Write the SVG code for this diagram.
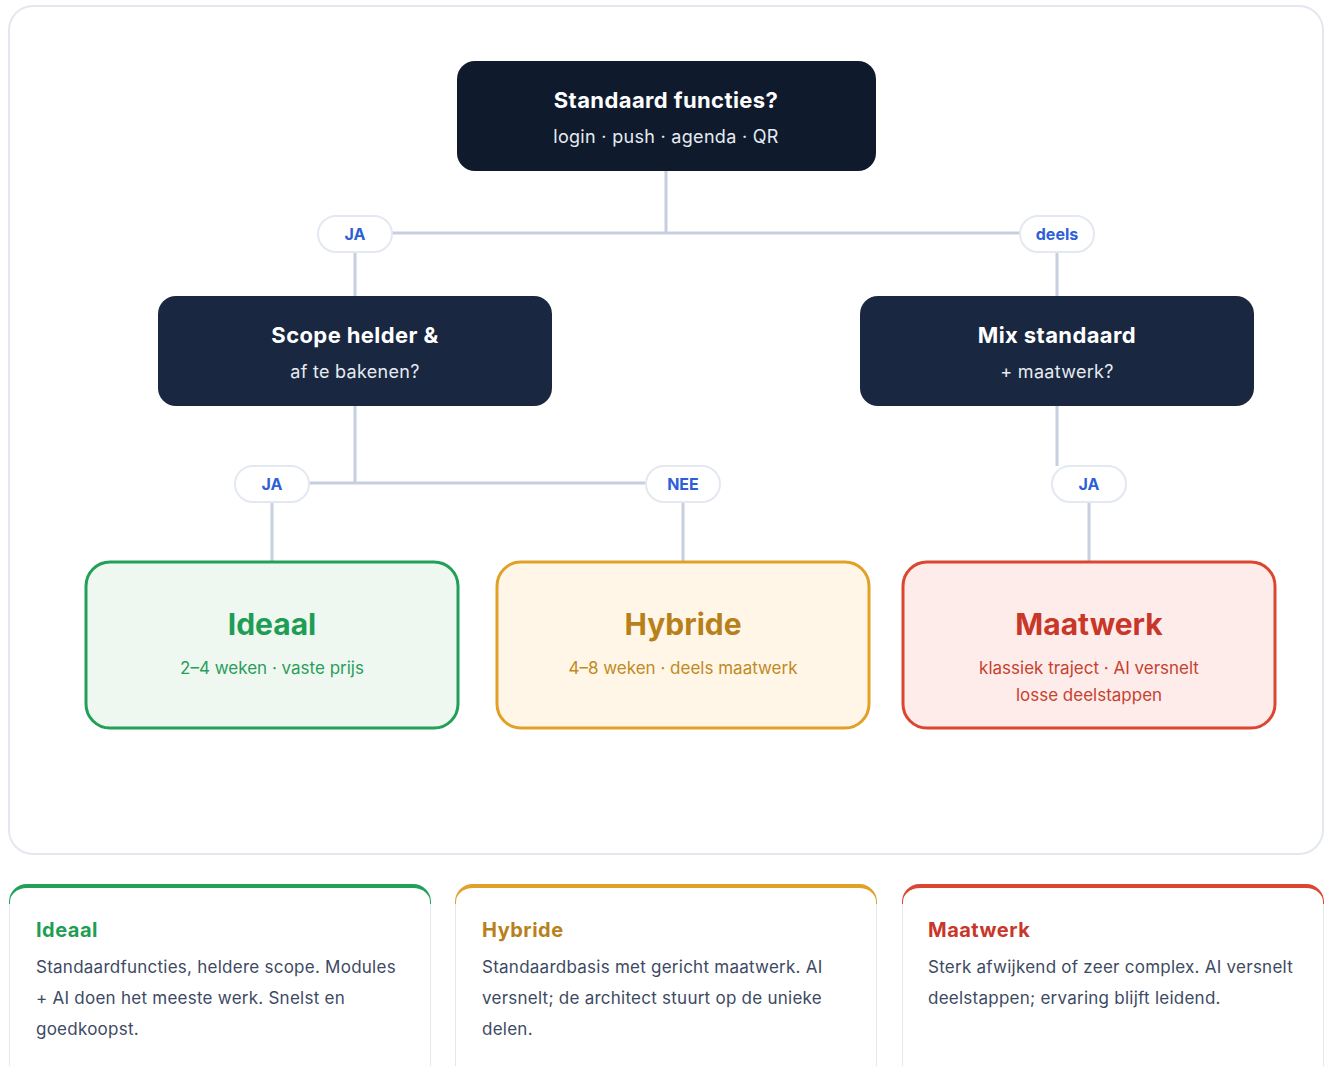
<svg xmlns="http://www.w3.org/2000/svg" width="1324" height="1066" viewBox="0 0 1324 1066">
<style>
text{font-family:Inter,"Liberation Sans",sans-serif}
.q{fill:#0f1b2d}
.q2{fill:#1a2740}
.qt{fill:#ffffff;font-weight:700;font-size:22px;letter-spacing:0.4px;text-anchor:middle}
.qs{fill:#e6ebf2;font-size:18px;letter-spacing:0.3px;text-anchor:middle}
.pill{fill:#ffffff;stroke:#e3e8f1;stroke-width:2}
.pt{fill:#2f5fd8;font-weight:700;font-size:16px;text-anchor:middle}
.con{stroke:#c6cfdf;stroke-width:3;fill:none}
.rt{font-weight:700;font-size:30px;text-anchor:middle}
.rs{font-size:17px;text-anchor:middle}
.ct{font-weight:700;font-size:20px;letter-spacing:0.5px}
.cb{fill:#3d4a63;font-size:17px;letter-spacing:0.25px}
</style>
<defs>
<clipPath id="c1"><rect x="9" y="884" width="422" height="220" rx="18"/></clipPath>
<clipPath id="c2"><rect x="455" y="884" width="422" height="220" rx="18"/></clipPath>
<clipPath id="c3"><rect x="902" y="884" width="422" height="220" rx="18"/></clipPath>
</defs>
<rect x="9" y="6" width="1314" height="848" rx="24" fill="#ffffff" stroke="#e3e8ef" stroke-width="2"/>
<g id="connectors">
<path class="con" d="M666 171 V233 M392 233 H1020 M355 252 V296 M1057 252 V296"/>
<path class="con" d="M355 406 V483 M309 483 H646 M272 502 V561 M683 502 V561 M1057 406 V466 M1089 502 V561"/>
</g>
<g id="n-standaard">
<rect class="q" x="457" y="61" width="419" height="110" rx="18"/>
<text class="qt" x="666" y="108">Standaard functies?</text>
<text class="qs" x="666" y="143">login · push · agenda · QR</text>
</g>
<g id="n-scope">
<rect class="q2" x="158" y="296" width="394" height="110" rx="18"/>
<text class="qt" x="355" y="343">Scope helder &amp;</text>
<text class="qs" x="355" y="378">af te bakenen?</text>
</g>
<g id="n-mix">
<rect class="q2" x="860" y="296" width="394" height="110" rx="18"/>
<text class="qt" x="1057" y="343">Mix standaard</text>
<text class="qs" x="1057" y="378">+ maatwerk?</text>
</g>
<g id="p-ja1"><rect class="pill" x="318" y="216" width="74" height="36" rx="18"/><text class="pt" x="355" y="240">JA</text></g>
<g id="p-deels"><rect class="pill" x="1020" y="216" width="74" height="36" rx="18"/><text class="pt" x="1057" y="240">deels</text></g>
<g id="p-ja2"><rect class="pill" x="235" y="466" width="74" height="36" rx="18"/><text class="pt" x="272" y="490">JA</text></g>
<g id="p-nee"><rect class="pill" x="646" y="466" width="74" height="36" rx="18"/><text class="pt" x="683" y="490">NEE</text></g>
<g id="p-ja3"><rect class="pill" x="1052" y="466" width="74" height="36" rx="18"/><text class="pt" x="1089" y="490">JA</text></g>
<g id="r-ideaal">
<rect x="86" y="562" width="372" height="166" rx="24" fill="#eef8f0" stroke="#22a05a" stroke-width="3"/>
<text class="rt" x="272" y="635" fill="#1f9d55">Ideaal</text>
<text class="rs" x="272" y="674" fill="#2a9d5c">2–4 weken · vaste prijs</text>
</g>
<g id="r-hybride">
<rect x="497" y="562" width="372" height="166" rx="24" fill="#fff6e8" stroke="#e0a126" stroke-width="3"/>
<text class="rt" x="683" y="635" fill="#b8801a">Hybride</text>
<text class="rs" x="683" y="674" fill="#c08a1e">4–8 weken · deels maatwerk</text>
</g>
<g id="r-maatwerk">
<rect x="903" y="562" width="372" height="166" rx="24" fill="#fdecea" stroke="#dc4630" stroke-width="3"/>
<text class="rt" x="1089" y="635" fill="#c8372a">Maatwerk</text>
<text class="rs" x="1089" y="674" fill="#c8412f">klassiek traject · AI versnelt</text>
<text class="rs" x="1089" y="701" fill="#c8412f">losse deelstappen</text>
</g>
<g id="card-ideaal">
<g clip-path="url(#c1)"><rect x="9" y="884" width="422" height="220" fill="#e3e8ef"/><rect x="9" y="884" width="422" height="20" fill="#22a05a"/></g>
<rect x="10" y="888" width="420" height="215" rx="17" ry="14" fill="#ffffff"/>
<text class="ct" x="36" y="937" fill="#1f9d55">Ideaal</text>
<text class="cb" x="36" y="973">Standaardfuncties, heldere scope. Modules</text>
<text class="cb" x="36" y="1004">+ AI doen het meeste werk. Snelst en</text>
<text class="cb" x="36" y="1035">goedkoopst.</text>
</g>
<g id="card-hybride">
<g clip-path="url(#c2)"><rect x="455" y="884" width="422" height="220" fill="#e3e8ef"/><rect x="455" y="884" width="422" height="20" fill="#e0a126"/></g>
<rect x="456" y="888" width="420" height="215" rx="17" ry="14" fill="#ffffff"/>
<text class="ct" x="482" y="937" fill="#b8801a">Hybride</text>
<text class="cb" x="482" y="973">Standaardbasis met gericht maatwerk. AI</text>
<text class="cb" x="482" y="1004">versnelt; de architect stuurt op de unieke</text>
<text class="cb" x="482" y="1035">delen.</text>
</g>
<g id="card-maatwerk">
<g clip-path="url(#c3)"><rect x="902" y="884" width="422" height="220" fill="#e3e8ef"/><rect x="902" y="884" width="422" height="20" fill="#dc4630"/></g>
<rect x="903" y="888" width="420" height="215" rx="17" ry="14" fill="#ffffff"/>
<text class="ct" x="928" y="937" fill="#c8372a">Maatwerk</text>
<text class="cb" x="928" y="973">Sterk afwijkend of zeer complex. AI versnelt</text>
<text class="cb" x="928" y="1004">deelstappen; ervaring blijft leidend.</text>
</g>
</svg>
